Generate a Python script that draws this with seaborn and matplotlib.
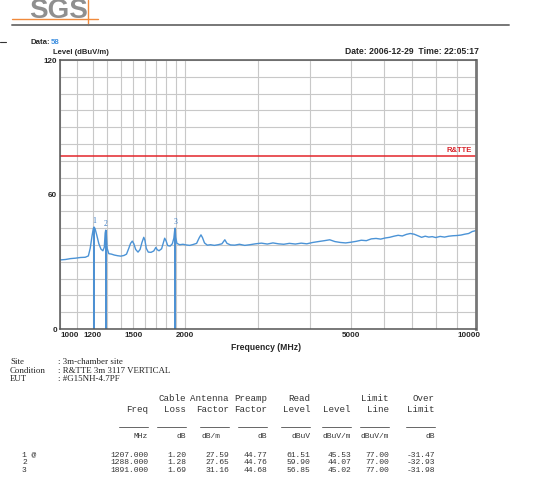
import matplotlib
matplotlib.use("Agg")
import matplotlib.pyplot as plt
from matplotlib.lines import Line2D
from matplotlib.ticker import FixedLocator, NullFormatter
import matplotlib.transforms as mtransforms
import seaborn as sns

# measured trace (MHz / dBuV/m)
freq_mhz = [1000, 1030, 1060, 1090, 1120, 1150, 1170, 1182, 1194, 1202,
            1207, 1214, 1226, 1240, 1255, 1268, 1278, 1284, 1288, 1292,
            1298, 1310, 1330, 1350, 1375, 1400, 1425, 1445, 1462, 1478,
            1492, 1505, 1520, 1540, 1558, 1574, 1590, 1600, 1612, 1630,
            1655, 1680, 1700, 1712, 1730, 1755, 1772, 1785, 1798, 1815,
            1840, 1862, 1878, 1886, 1891, 1897, 1910, 1940, 1975, 2010,
            2050, 2090, 2130, 2160, 2182, 2200, 2225, 2260, 2300, 2350,
            2400, 2450, 2490, 2520, 2570, 2630, 2700, 2780, 2860, 2950,
            3050, 3150, 3250, 3350, 3450, 3560, 3680, 3800, 3920, 4050,
            4180, 4320, 4450, 4580, 4720, 4860, 5000, 5150, 5300, 5450,
            5600, 5750, 5900, 6050, 6200, 6350, 6500, 6650, 6800, 6950,
            7100, 7250, 7400, 7550, 7700, 7850, 8000, 8200, 8400, 8600,
            8800, 9000, 9200, 9400, 9600, 9800, 10000]
level_dbuv = [30.8, 31.0, 31.4, 31.6, 31.9, 32.0, 32.6, 36.0, 41.5, 44.6,
              45.5, 44.8, 41.8, 38.0, 35.6, 34.9, 36.5, 42.8, 44.1, 42.5,
              36.0, 33.6, 33.4, 33.0, 32.7, 32.5, 32.8, 33.4, 35.8, 38.2,
              39.2, 38.0, 35.5, 34.3, 35.5, 38.6, 40.9, 39.6, 36.0, 34.3,
              34.2, 34.8, 36.4, 35.4, 34.9, 35.8, 38.5, 40.5, 39.4, 37.2,
              37.0, 38.0, 40.5, 43.8, 45.0, 41.0, 38.2, 37.6, 37.8, 37.5,
              37.3, 37.7, 38.2, 40.6, 42.0, 40.8, 38.4, 37.4, 37.6, 37.3,
              37.6, 38.0, 39.8, 38.2, 37.5, 37.4, 37.8, 37.3, 37.6, 38.0,
              38.3, 37.9, 38.4, 38.0, 37.8, 38.2, 37.9, 38.3, 38.0, 38.6,
              39.0, 39.4, 39.8, 39.0, 38.6, 38.4, 38.7, 39.1, 39.6, 39.4,
              40.2, 40.4, 40.1, 40.6, 40.9, 41.4, 41.8, 41.5, 42.2, 42.6,
              42.3, 41.6, 40.9, 41.4, 41.0, 41.2, 40.8, 41.3, 41.0, 41.4,
              41.6, 41.7, 41.9, 42.3, 42.6, 43.5, 43.9]

limit_level = 77
limit_name = "R&TTE"

marker_ids = ["1", "2", "3"]
marker_freq = [1207, 1288, 1891]
marker_level = [45.53, 44.07, 45.02]

x_ticks = [1000, 1200, 1500, 2000, 5000, 10000]
x_grid = [1100, 1300, 1400, 1600, 1700, 1800, 1900,
          3000, 4000, 6000, 7000, 8000, 9000]
y_ticks = [0, 60, 120]

# result table
row_labels = ["1 @", "2", "3"]
tbl_freq = ["1207.000", "1288.000", "1891.000"]
tbl_loss = ["1.20", "1.28", "1.69"]
tbl_ant = ["27.59", "27.65", "31.16"]
tbl_pre = ["44.77", "44.76", "44.68"]
tbl_read = ["61.51", "59.90", "56.85"]
tbl_level = ["45.53", "44.07", "45.02"]
tbl_limit = ["77.00", "77.00", "77.00"]
tbl_over = ["-31.47", "-32.93", "-31.98"]

W, H = 552, 486
sns.set_style("white")
plt.rcParams["font.family"] = ["Liberation Sans", "DejaVu Sans"]

fig = plt.figure(figsize=(W / 100, H / 100), dpi=100)


def fx(x):
    return x / W


def fy(y):
    return 1 - y / H


ax = fig.add_axes([fx(60), fy(329), 416 / W, 269 / H])

sns.lineplot(x=freq_mhz, y=level_dbuv, ax=ax, color="#4b93d6", lw=1.0)
ax.vlines(marker_freq, 0, marker_level, color="#4a8fd2", lw=1.4)
for mid, mf, ml in zip(marker_ids, marker_freq, marker_level):
    ax.text(mf, ml + 1.0, mid, ha="center", va="bottom", fontsize=5.5,
            color="#3a7bc4", family="Liberation Serif")

ax.axhline(limit_level, color="#e3262b", lw=1.1)
ax.text(0.99, limit_level + 1.2, limit_name, transform=ax.get_yaxis_transform(),
        ha="right", va="bottom", fontsize=5.5, fontweight="bold", color="#d8232a")

ax.set_xscale("log")
ax.set_xlim(1000, 10000)
ax.set_ylim(0, 120)
ax.xaxis.set_major_locator(FixedLocator(x_ticks))
ax.xaxis.set_minor_locator(FixedLocator(x_grid))
ax.set_xticklabels([str(t) for t in x_ticks])
ax.xaxis.set_minor_formatter(NullFormatter())
ax.yaxis.set_major_locator(FixedLocator(y_ticks))
ax.yaxis.set_minor_locator(FixedLocator([i * 7.5 for i in range(17)]))
ax.grid(True, which="both", color="#c8c8c8", lw=0.8)
ax.tick_params(which="both", length=0, labelsize=5.8, pad=2)
for lab in ax.get_xticklabels() + ax.get_yticklabels():
    lab.set_fontweight("bold")
xl = ax.get_xticklabels()
xl[0].set_horizontalalignment("left")
xl[-1].set_transform(xl[-1].get_transform() +
                     mtransforms.ScaledTranslation(-7 / 100, 0, fig.dpi_scale_trans))
ax.set_xlabel("")
ax.set_ylabel("")
for s in ax.spines.values():
    s.set_color("#555555")
    s.set_linewidth(1.1)
ax.spines["right"].set_linewidth(2)
ax.spines["right"].set_color("#777777")

# header / logo
fig.text(fx(29), fy(18), "SGS", fontsize=20, fontweight="bold", color="#8f8f8f",
         va="baseline", ha="left")
fig.add_artist(Line2D([fx(12), fx(98)], [fy(19.5), fy(19.5)], color="#f08a3c", lw=1.0))
fig.add_artist(Line2D([fx(88), fx(88)], [fy(0), fy(25)], color="#f08a3c", lw=1.0))
fig.add_artist(Line2D([fx(12), fx(509)], [fy(25.5), fy(25.5)], color="#777777", lw=1.4))
fig.add_artist(Line2D([fx(0), fx(6)], [fy(42), fy(42)], color="#333333", lw=0.8))

fig.text(fx(50), fy(43), "Data:", fontsize=5.6, fontweight="bold", va="center",
         ha="right")
fig.text(fx(50.5), fy(43), "58", fontsize=5.6, fontweight="bold", va="center",
         color="#3d8fe0")
fig.text(fx(53), fy(52), "Level (dBuV/m)", fontsize=5.5, fontweight="bold",
         va="center")
fig.text(fx(479), fy(52), "Date: 2006-12-29  Time: 22:05:17", fontsize=6.2,
         fontweight="bold", va="center", ha="right")
fig.text(fx(266), fy(347), "Frequency (MHz)", fontsize=6.2, fontweight="bold",
         va="center", ha="center")

# info block
serif = dict(fontsize=6.4, family="Liberation Serif", va="center", color="#222222")
for y, k, v in [(362, "Site", ": 3m-chamber site"),
                (370.5, "Condition", ": R&TTE 3m 3117 VERTICAL"),
                (379, "EUT", ": #G15NH-4.7PF")]:
    fig.text(fx(10), fy(y), k, **serif)
    fig.text(fx(58), fy(y), v, **serif)

head = dict(fontsize=6.6, family="Liberation Mono", va="center", ha="right",
            color="#333333")
mono = dict(fontsize=5.8, family="Liberation Mono", va="center", ha="right",
            color="#333333")
col_x = [148, 186, 229, 267, 310, 351, 389, 435]
head1 = ["", "Cable", "Antenna", "Preamp", "Read", "", "Limit", "Over"]
head2 = ["Freq", "Loss", "Factor", "Factor", "Level", "Level", "Line", "Limit"]
units = ["MHz", "dB", "dB/m", "dB", "dBuV", "dBuV/m", "dBuV/m", "dB"]
units_x = [148, 186, 220, 267, 310, 351, 389, 435]
for x, ux, a, b, u in zip(col_x, units_x, head1, head2, units):
    fig.text(fx(x), fy(398), a, **head)
    fig.text(fx(x), fy(409), b, **head)
    fig.text(fx(ux), fy(436), u, **mono)
    fig.add_artist(Line2D([fx(x - 29), fx(x)], [fy(427), fy(427)], color="#666666", lw=0.7))

cols = [tbl_freq, tbl_loss, tbl_ant, tbl_pre, tbl_read, tbl_level, tbl_limit, tbl_over]
for i, lab in enumerate(row_labels):
    y = 455 + i * 7.8
    fig.text(fx(22), fy(y), lab, fontsize=5.8, family="Liberation Mono", va="center",
             color="#333333")
    for x, col in zip(col_x, cols):
        fig.text(fx(x), fy(y), col[i], **mono)

fig.savefig("out.png", dpi=100)
